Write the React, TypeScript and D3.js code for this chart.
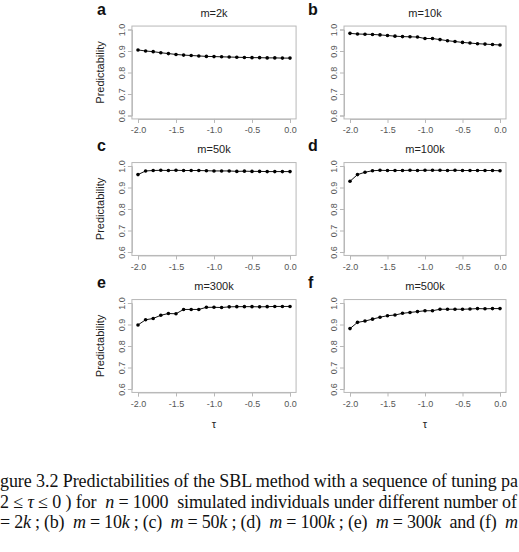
import React, { useEffect, useRef } from 'react'
import * as d3 from 'd3'

// tuning parameter grid (x axis)
const tauValues = [
    -2.0, -1.9, -1.8, -1.7, -1.6, -1.5, -1.4, -1.3, -1.2, -1.1, -1.0, -0.9,
    -0.8, -0.7, -0.6, -0.5, -0.4, -0.3, -0.2, -0.1, 0.0,
]

// predictability per tau, one array per number of SNPs
const predM2k = [
    0.905, 0.9, 0.897, 0.892, 0.888, 0.884, 0.881, 0.879, 0.877, 0.875, 0.874,
    0.873, 0.872, 0.871, 0.87, 0.869, 0.869, 0.868, 0.868, 0.867, 0.867,
]
const predM10k = [
    0.982, 0.979, 0.978, 0.977, 0.975, 0.972, 0.969, 0.967, 0.966, 0.965, 0.958,
    0.958, 0.953, 0.948, 0.944, 0.94, 0.937, 0.934, 0.932, 0.93, 0.928,
]
const predM50k = [
    0.96, 0.977, 0.979, 0.98, 0.979, 0.98, 0.979, 0.979, 0.979, 0.978, 0.977,
    0.977, 0.977, 0.975, 0.976, 0.975, 0.975, 0.974, 0.974, 0.974, 0.974,
]
const predM100k = [
    0.929, 0.96, 0.971, 0.978, 0.98, 0.979, 0.979, 0.979, 0.98, 0.979, 0.98,
    0.98, 0.98, 0.979, 0.98, 0.979, 0.979, 0.979, 0.979, 0.979, 0.978,
]
const predM300k = [
    0.898, 0.922, 0.928, 0.943, 0.951, 0.95, 0.97, 0.97, 0.97, 0.98, 0.98,
    0.979, 0.982, 0.983, 0.983, 0.983, 0.982, 0.983, 0.984, 0.984, 0.984,
]
const predM500k = [
    0.881, 0.91, 0.916, 0.925, 0.934, 0.941, 0.944, 0.952, 0.956, 0.96, 0.964,
    0.964, 0.971, 0.971, 0.971, 0.971, 0.972, 0.974, 0.973, 0.974, 0.974,
]

const panelSeries = [predM2k, predM10k, predM50k, predM100k, predM300k, predM500k]
const panelTitles = ['m=2k', 'm=10k', 'm=50k', 'm=100k', 'm=300k', 'm=500k']
const panelLetters = ['a', 'b', 'c', 'd', 'e', 'f']
const xTicks = [-2.0, -1.5, -1.0, -0.5, 0.0]
const yTicks = [0.6, 0.7, 0.8, 0.9, 1.0]

// caption lines as [text, italic] runs
const captionLines: [string, boolean][][] = [
    [['gure 3.2 Predictabilities of the SBL method with a sequence of tuning pa', false]],
    [
        ['2 ≤ ', false],
        ['τ', true],
        [' ≤ 0 ) for  ', false],
        ['n', true],
        [' = 1000  simulated individuals under different number of', false],
    ],
    [
        ['= 2', false],
        ['k', true],
        [' ; (b)  ', false],
        ['m', true],
        [' = 10', false],
        ['k', true],
        [' ; (c)  ', false],
        ['m', true],
        [' = 50', false],
        ['k', true],
        [' ; (d)  ', false],
        ['m', true],
        [' = 100', false],
        ['k', true],
        [' ; (e)  ', false],
        ['m', true],
        [' = 300', false],
        ['k', true],
        ['  and (f)  ', false],
        ['m', true],
    ],
]

const W = 519
const H = 552
const sans = '"Liberation Sans", Arial, sans-serif'
const serif = '"Liberation Serif", "Times New Roman", serif'

// x pixel range of the data area for left / right column, y top for each row
const colX = [
    [138, 290],
    [350, 500],
]
const rowY = [29.5, 166, 303]
const plotH = 86

const App: React.FC = () => {
    const svgRef = useRef<SVGSVGElement | null>(null)

    useEffect(() => {
        if (!svgRef.current) return
        const svg = d3.select(svgRef.current)
        svg.selectAll('*').remove()

        panelSeries.forEach((values, i) => {
            const col = i % 2
            const row = Math.floor(i / 2)
            const [x0, x1] = colX[col]
            const top = rowY[row]

            const x = d3.scaleLinear().domain([-2, 0]).range([x0, x1])
            const y = d3.scaleLinear().domain([0.6, 1.0]).range([top + plotH, top])

            // R-style box: 4% padding beyond data range
            const padX = (x1 - x0) * 0.04
            const padY = plotH * 0.04
            const bl = x0 - padX
            const br = x1 + padX
            const bt = top - padY
            const bb = top + plotH + padY

            const g = svg.append('g')

            g.append('rect')
                .attr('x', bl)
                .attr('y', bt)
                .attr('width', br - bl)
                .attr('height', bb - bt)
                .attr('fill', 'none')
                .attr('stroke', '#b8b8b8')
                .attr('stroke-width', 1)

            const xAxis = g
                .append('g')
                .attr('transform', `translate(0,${bb})`)
                .call(
                    d3
                        .axisBottom(x)
                        .tickValues(xTicks)
                        .tickSizeOuter(0)
                        .tickSize(4)
                        .tickPadding(4)
                )
            xAxis.selectAll('path, line').attr('stroke', '#b8b8b8')
            xAxis
                .selectAll('text')
                .attr('fill', '#555')
                .style('font-family', sans)
                .style('font-size', '9px')
                .text((d: any) => d3.format('.1f')(d).replace('−', '-'))

            const yAxis = g
                .append('g')
                .attr('transform', `translate(${bl},0)`)
                .call(
                    d3
                        .axisLeft(y)
                        .tickValues(yTicks)
                        .tickFormat(d3.format('.1f'))
                        .tickSizeOuter(0)
                        .tickSize(4)
                )
            yAxis.selectAll('path, line').attr('stroke', '#b8b8b8')
            yAxis
                .selectAll('text')
                .attr('fill', '#555')
                .attr('transform', 'rotate(-90)')
                .attr('x', 0)
                .attr('y', -7)
                .attr('dy', 0)
                .attr('text-anchor', 'middle')
                .style('font-family', sans)
                .style('font-size', '9px')

            // series line with points
            const line = d3
                .line<number>()
                .x((_, j) => x(tauValues[j]))
                .y((d) => y(d))

            g.append('path')
                .datum(values)
                .attr('fill', 'none')
                .attr('stroke', '#111')
                .attr('stroke-width', 1)
                .attr('d', line)

            g.selectAll('circle.pt')
                .data(values)
                .enter()
                .append('circle')
                .attr('class', 'pt')
                .attr('cx', (_, j) => x(tauValues[j]))
                .attr('cy', (d) => y(d))
                .attr('r', 1.8)
                .attr('fill', '#000')

            // panel title and letter
            g.append('text')
                .attr('x', (bl + br) / 2)
                .attr('y', top - 13)
                .attr('text-anchor', 'middle')
                .style('font-family', sans)
                .style('font-size', '11px')
                .attr('fill', '#222')
                .text(panelTitles[i])

            g.append('text')
                .attr('x', col === 0 ? 97 : 308)
                .attr('y', top - 15)
                .style('font-family', sans)
                .style('font-size', '16px')
                .style('font-weight', 'bold')
                .attr('fill', '#111')
                .text(panelLetters[i])

            if (col === 0) {
                g.append('text')
                    .attr(
                        'transform',
                        `translate(104,${top + plotH / 2}) rotate(-90)`
                    )
                    .attr('text-anchor', 'middle')
                    .style('font-family', sans)
                    .style('font-size', '11px')
                    .attr('fill', '#222')
                    .text('Predictability')
            }

            if (row === 2) {
                g.append('text')
                    .attr('x', (bl + br) / 2)
                    .attr('y', bb + 36)
                    .attr('text-anchor', 'middle')
                    .style('font-family', sans)
                    .style('font-size', '11px')
                    .attr('fill', '#222')
                    .text('τ')
            }
        })

        // figure caption
        const cap = svg
            .append('g')
            .style('font-family', serif)
            .style('font-size', '18px')
            .attr('fill', '#111')

        const baselines = [487, 508, 528]
        const lineWidths = [518, 517, 518]
        captionLines.forEach((runs, li) => {
            const t = cap
                .append('text')
                .attr('x', 0)
                .attr('y', baselines[li])
                .attr('textLength', lineWidths[li])
                .attr('lengthAdjust', 'spacing')
                .style('white-space', 'pre')
            runs.forEach(([s, it]) => {
                t.append('tspan')
                    .style('font-style', it ? 'italic' : 'normal')
                    .text(s)
            })
        })
    }, [])

    return (
        <svg
            ref={svgRef}
            width={W}
            height={H}
            style={{ position: 'absolute', left: 0, top: 0, background: '#fff' }}
        />
    )
}

export default App
